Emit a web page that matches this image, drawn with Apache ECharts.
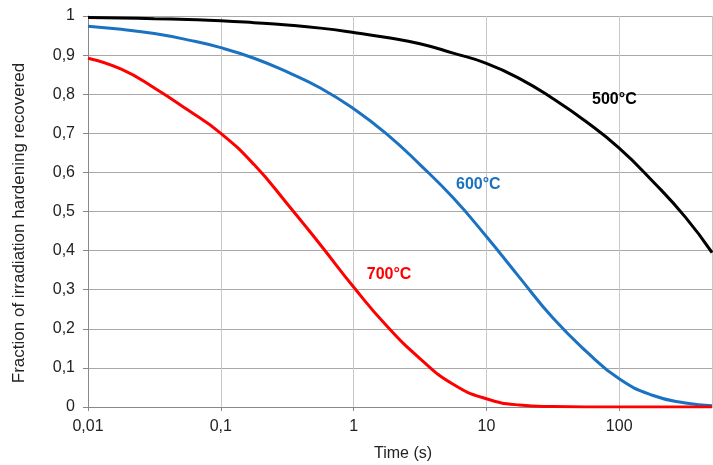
<!DOCTYPE html>
<html><head><meta charset="utf-8">
<script src="https://cdn.jsdelivr.net/npm/echarts@6/dist/echarts.min.js"></script>
<style>html,body{margin:0;padding:0;background:#fff}#c{width:713px;height:465px}</style>
</head><body><div id="c"></div>
<script>
var xTickLabels = ['0,01','0,1','1','10','100'];
var times = [0.01,0.0178,0.0316,0.0562,0.1,0.178,0.316,0.562,1,1.78,3.16,5.62,10,17.8,31.6,56.2,100,178,316,500];
var v500 = [0.996,0.995,0.993,0.991,0.988,0.983,0.977,0.969,0.958,0.945,0.929,0.905,0.879,0.840,0.789,0.730,0.662,0.578,0.485,0.395];
var v600 = [0.974,0.966,0.955,0.939,0.919,0.892,0.857,0.816,0.763,0.698,0.620,0.535,0.436,0.331,0.228,0.143,0.072,0.030,0.010,0.003];
var v700 = [0.892,0.864,0.816,0.760,0.700,0.620,0.520,0.415,0.307,0.207,0.124,0.058,0.021,0.005,0.001,0,0,0,0,0];
var seriesNames = ['500°C','600°C','700°C'];
var labelPos = [[92,0.785],[8.7,0.568],[1.85,0.338]];
var yTitle = 'Fraction of irradiation hardening recovered';
var xTitle = 'Time (s)';

function pairs(t,v){return t.map(function(x,i){return [x,v[i]];});}
var colors = ['#000000','#1a72c0','#ff0000'];
var sets = [v500,v600,v700];
var keys=[0.01,0.1,1,10,100];
var chart = echarts.init(document.getElementById('c'));
chart.setOption({
  animation:false,
  textStyle:{fontFamily:'Liberation Sans, Arial, sans-serif'},
  grid:{left:88,right:1,top:16,bottom:58,outerBoundsMode:'none',containLabel:false},
  graphic:[{type:'text',x:19.5,y:223,rotation:Math.PI/2,
    style:{text:yTitle,fontSize:17,fill:'#222',align:'center',verticalAlign:'middle',fontFamily:'Liberation Sans, Arial, sans-serif'}}],
  xAxis:{type:'log',logBase:10,min:0.01,max:500,
    name:xTitle,nameLocation:'middle',nameGap:39,
    nameTextStyle:{fontSize:16,color:'#222',padding:[0,0,0,6]},
    axisLine:{show:true,lineStyle:{color:'#888',width:1}},
    axisTick:{show:true,length:4,lineStyle:{color:'#888'}},
    minorTick:{show:false},
    axisLabel:{fontSize:16,color:'#222',margin:12,showMaxLabel:false,
      formatter:function(v){for(var i=0;i<keys.length;i++){if(Math.abs(Math.log10(v)-Math.log10(keys[i]))<1e-6)return xTickLabels[i];}return '';}},
    splitLine:{show:true,lineStyle:{color:'#c8c8c8',width:1}}
  },
  yAxis:{type:'value',min:0,max:1,interval:0.1,
    axisLine:{show:true,lineStyle:{color:'#888',width:1}},
    axisTick:{show:true,length:5,lineStyle:{color:'#888'}},
    axisLabel:{fontSize:16,color:'#222',margin:13,
      formatter:function(v){return String(Math.round(v*10)/10).replace('.',',');}},
    splitLine:{show:true,lineStyle:{color:'#a8a8a8',width:1}}
  },
  series:sets.map(function(vals,i){
    return {type:'line',name:seriesNames[i],data:pairs(times,vals),smooth:0.5,clip:true,
      showSymbol:false,symbol:'none',lineStyle:{color:colors[i],width:3},itemStyle:{color:colors[i]},
      markPoint:{symbol:'circle',symbolSize:0,silent:true,
        data:[{coord:labelPos[i],value:seriesNames[i],
          label:{show:true,position:'inside',formatter:seriesNames[i],color:colors[i],fontWeight:'bold',fontSize:16}}]}
    };
  })
});
</script></body></html>
